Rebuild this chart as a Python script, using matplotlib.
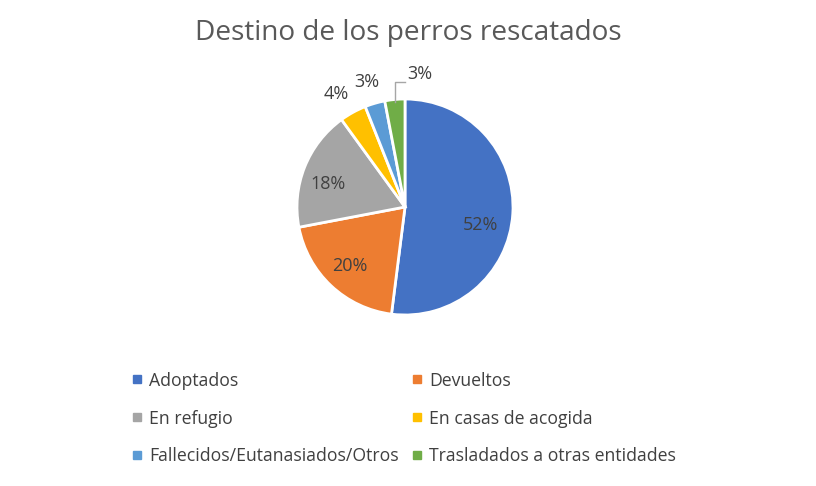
"""
Destino de los perros rescatados - pie estilo Excel.
"""
import numpy as np
import matplotlib.pyplot as plt
from matplotlib.lines import Line2D

OUT_FILE = "out.png"

categorias = ["Adoptados", "Devueltos", "En refugio", "En casas de acogida",
              "Fallecidos/Eutanasiados/Otros", "Trasladados a otras entidades"]
valores = [52, 20, 18, 4, 3, 3]
colores = ["#4472C4", "#ED7D31", "#A5A5A5", "#FFC000", "#5B9BD5", "#70AD47"]

plt.rcParams["font.family"] = ["Open Sans", "DejaVu Sans"]
TXT = "#404040"
FS_LBL = 13

fig = plt.figure(figsize=(8.16, 4.86), dpi=100)
fig.patch.set_facecolor("white")

cx, cy, r = 405, 207, 108
W, H = 816, 486
ax = fig.add_axes([(cx - r) / W, 1 - (cy + r) / H, 2 * r / W, 2 * r / H])

wedges, _ = ax.pie(valores, colors=colores, startangle=90, counterclock=False,
                   wedgeprops=dict(edgecolor="white", linewidth=2))
ax.set_xlim(-1, 1)
ax.set_ylim(-1, 1)
ax.set_aspect("equal")
ax.axis("off")

# posicion de etiquetas como en Excel: (radio, desvio angular)
ajuste = [(0.715, -10), (0.75, 0), (0.745, 5), (1.225, 2.6), (1.21, 0.7)]

total = sum(valores)
for i, (w, v) in enumerate(zip(wedges, valores)):
    ang = (w.theta1 + w.theta2) / 2
    pct = f"{round(100 * v / total)}%"
    if i < len(ajuste):
        rr, da = ajuste[i]
        a = np.deg2rad(ang + da)
        ax.text(rr * np.cos(a), rr * np.sin(a), pct, ha="center", va="center",
                fontsize=FS_LBL, color=TXT, clip_on=False)
    else:
        a = np.deg2rad(ang)
        x0, y0 = 0.98 * np.cos(a), 0.98 * np.sin(a)
        ax.plot([x0, x0, x0 + 0.09], [y0, 1.157, 1.157], color="#A6A6A6",
                lw=1, clip_on=False)
        ax.text(x0 + 0.115, 1.23, pct, ha="left", va="center", fontsize=FS_LBL,
                color=TXT, clip_on=False)

fig.text(0.5, 1 - 33 / H, "Destino de los perros rescatados", ha="center",
         va="center", fontsize=20.2, color="#595959")

handles = [Line2D([], [], marker="s", linestyle="none", markersize=5.8,
                  markerfacecolor=c, markeredgecolor=c) for c in colores]
for col, x_px in enumerate([123, 403]):
    idx = [col, col + 2, col + 4]
    fig.legend([handles[k] for k in idx], [categorias[k] for k in idx],
               loc="center left", bbox_to_anchor=(x_px / W, 1 - 418.5 / H),
               frameon=False, fontsize=12.7, labelcolor=TXT, borderpad=0,
               handlelength=0.6, handletextpad=0.4, labelspacing=1.13)

plt.savefig(OUT_FILE, dpi=100, facecolor="white")
